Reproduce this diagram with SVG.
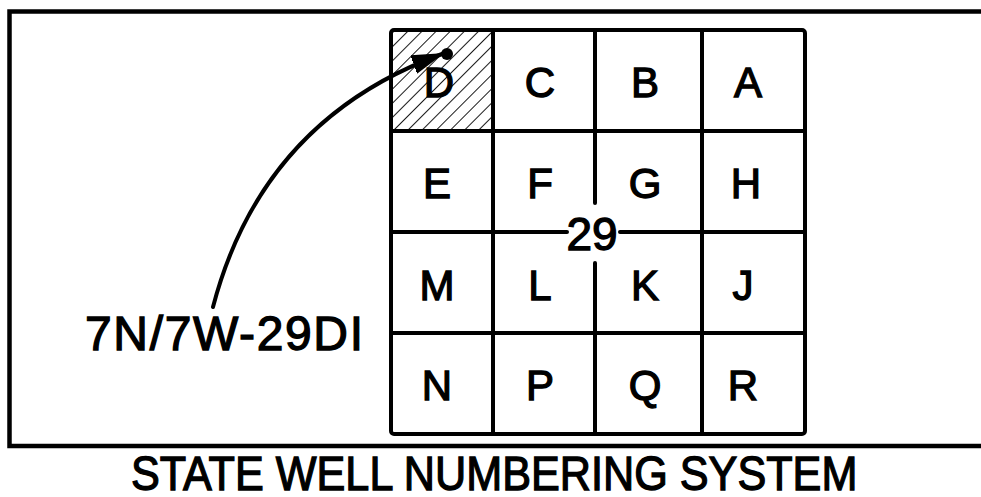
<svg xmlns="http://www.w3.org/2000/svg" width="981" height="497" viewBox="0 0 981 497">
<defs>
<style>
.frame{fill:none;stroke:#000;stroke-width:4.5}
.grid{fill:none;stroke:#000;stroke-width:4;stroke-linecap:round}
.lbl{font-family:"Liberation Sans",Arial,sans-serif;font-size:42px;fill:#000;stroke:#000;stroke-width:1.3;text-anchor:middle}
.big{font-family:"Liberation Sans",Arial,sans-serif;fill:#000;stroke:#000;stroke-width:1.3}
.conn{fill:none;stroke:#000;stroke-width:4;stroke-linecap:round}
</style>
<pattern id="hatch" patternUnits="userSpaceOnUse" width="10" height="10" patternTransform="rotate(45)">
<line x1="0" y1="0" x2="0" y2="10" stroke="#000" stroke-width="1.8"/>
</pattern>
<marker id="arrow" markerUnits="userSpaceOnUse" markerWidth="34" markerHeight="22" refX="30" refY="11" orient="auto">
<path d="M0,2 L30,11 L0,20 Z" fill="#000" stroke="#000" stroke-width="1.5" stroke-linejoin="round"/>
</marker>
</defs>
<rect width="981" height="497" fill="#fff"/>
<path class="frame" d="M990,11.5 L9.5,11.5 L9.5,446 L990,446"/>
<g id="grid">
<rect class="grid" x="391" y="30" width="414" height="404" rx="3"/>
<line class="grid" x1="391" y1="131" x2="805" y2="131"/>
<line class="grid" x1="391" y1="232" x2="567" y2="232"/>
<line class="grid" x1="620" y1="232" x2="805" y2="232"/>
<line class="grid" x1="391" y1="333" x2="805" y2="333"/>
<line class="grid" x1="493" y1="30" x2="493" y2="434"/>
<line class="grid" x1="595" y1="30" x2="595" y2="203"/>
<line class="grid" x1="595" y1="263" x2="595" y2="434"/>
<line class="grid" x1="702" y1="30" x2="702" y2="434"/>
</g>
<g id="cell-D"><rect x="393" y="32" width="98" height="97" fill="url(#hatch)"/><text class="lbl" x="439" y="97">D</text></g>
<g id="cell-C"><text class="lbl" x="540" y="97">C</text></g>
<g id="cell-B"><text class="lbl" x="645" y="97">B</text></g>
<g id="cell-A"><text class="lbl" x="748" y="97">A</text></g>
<g id="cell-E"><text class="lbl" x="437" y="198">E</text></g>
<g id="cell-F"><text class="lbl" x="540" y="198">F</text></g>
<g id="cell-G"><text class="lbl" x="645" y="198">G</text></g>
<g id="cell-H"><text class="lbl" x="746" y="198">H</text></g>
<g id="cell-M"><text class="lbl" x="437" y="300">M</text></g>
<g id="cell-L"><text class="lbl" x="540" y="300">L</text></g>
<g id="cell-K"><text class="lbl" x="645" y="300">K</text></g>
<g id="cell-J"><text class="lbl" x="743" y="300">J</text></g>
<g id="cell-N"><text class="lbl" x="437" y="400">N</text></g>
<g id="cell-P"><text class="lbl" x="540" y="400">P</text></g>
<g id="cell-Q"><text class="lbl" x="645" y="400">Q</text></g>
<g id="cell-R"><text class="lbl" x="743" y="400">R</text></g>
<g id="section"><text class="big" x="592" y="250" font-size="46" text-anchor="middle">29</text></g>
<g id="well-label"><text class="big" x="85" y="350" font-size="48" textLength="278" lengthAdjust="spacing">7N/7W-29DI</text></g>
<g id="connectors">
<path class="conn" d="M213,307 Q262,120 442,54" marker-end="url(#arrow)"/>
<circle cx="447" cy="54" r="6" fill="#000"/>
</g>
<g id="title"><text class="big" transform="translate(131,490) scale(0.9,1)" x="0" y="0" font-size="48">STATE WELL NUMBERING SYSTEM</text></g>
</svg>
